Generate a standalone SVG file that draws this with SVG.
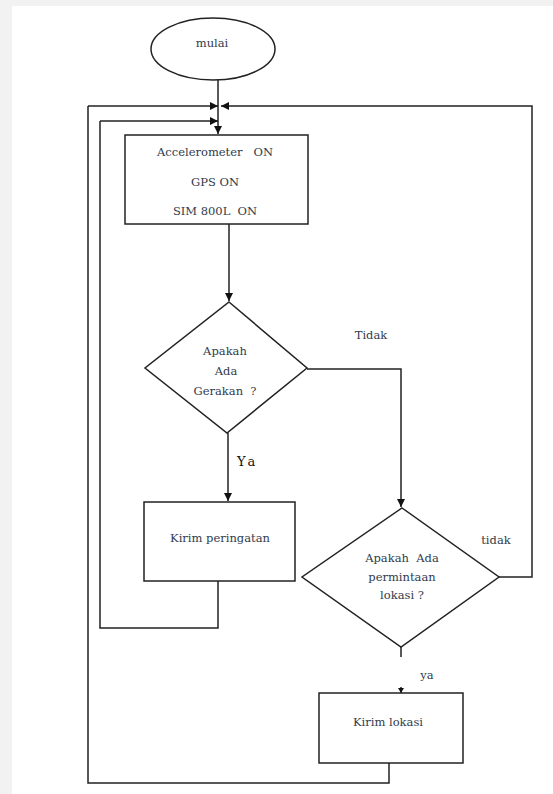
<svg xmlns="http://www.w3.org/2000/svg" width="553" height="794" viewBox="0 0 553 794">
<style>
.s{fill:#fff;stroke:#222;stroke-width:1.5}
.c{fill:none;stroke:#222;stroke-width:1.5}
text{font-family:'DejaVu Serif','Liberation Serif',serif}
.t{font-size:11.5px;fill:#2f3b4c;text-anchor:middle}
.k{font-size:13px;fill:#111}
</style>
<defs>
<marker id="a" markerUnits="userSpaceOnUse" markerWidth="9" markerHeight="8" refX="8" refY="4" orient="auto">
<path d="M0,0 L8,4 L0,8 Z" fill="#111"/>
</marker>
<marker id="sa" markerUnits="userSpaceOnUse" markerWidth="6" markerHeight="6" refX="5" refY="3" orient="auto">
<path d="M0,0 L5,3 L0,6 Z" fill="#111"/>
</marker>
</defs>
<rect width="553" height="794" fill="#f2f2f2"/>
<rect x="12" y="6" width="541" height="788" fill="#fff"/>
<g id="connectors">
<path class="c" d="M218,80 V134" marker-end="url(#a)"/>
<path class="c" d="M88,106 H218" marker-end="url(#a)"/>
<path class="c" d="M100,121 H218" marker-end="url(#a)"/>
<path class="c" d="M229,224 V301" marker-end="url(#a)"/>
<path class="c" d="M307,369 H401 V507" marker-end="url(#a)"/>
<path class="c" d="M228,433 V501" marker-end="url(#a)"/>
<path class="c" d="M218,581 V628 H100 V121"/>
<path class="c" d="M499,577 H532 V106 H221" marker-end="url(#a)"/>
<path class="c" d="M401,647 V657"/>
<path class="c" d="M401,687 V693" marker-end="url(#sa)"/>
<path class="c" d="M389,763 V783 H88 V106"/>
<text class="t" x="371" y="339">Tidak</text>
<text class="k" x="237" y="466" letter-spacing="3">Ya</text>
<text class="t" x="496" y="544">tidak</text>
<text class="t" x="427" y="679">ya</text>
</g>
<g id="start">
<ellipse class="s" cx="213" cy="49" rx="62" ry="31"/>
<text class="t" x="212" y="47">mulai</text>
</g>
<g id="init">
<rect class="s" x="125" y="135" width="183" height="89"/>
<text class="t" x="215" y="156" xml:space="preserve">Accelerometer   ON</text>
<text class="t" x="215" y="186">GPS ON</text>
<text class="t" x="215" y="215" xml:space="preserve">SIM 800L  ON</text>
</g>
<g id="gerakan">
<polygon class="s" points="229,302 307,368 227,433 145,368"/>
<text class="t" x="225" y="355">Apakah</text>
<text class="t" x="226" y="375">Ada</text>
<text class="t" x="225" y="395" xml:space="preserve">Gerakan  ?</text>
</g>
<g id="peringatan">
<rect class="s" x="144" y="502" width="151" height="79"/>
<text class="t" x="220" y="542">Kirim peringatan</text>
</g>
<g id="permintaan">
<polygon class="s" points="402,508 499,577 401,647 302,577"/>
<text class="t" x="402" y="562" xml:space="preserve">Apakah  Ada</text>
<text class="t" x="402" y="581">permintaan</text>
<text class="t" x="402" y="599">lokasi ?</text>
</g>
<g id="lokasi">
<rect class="s" x="319" y="693" width="144" height="70"/>
<text class="t" x="388" y="726">Kirim lokasi</text>
</g>
</svg>
